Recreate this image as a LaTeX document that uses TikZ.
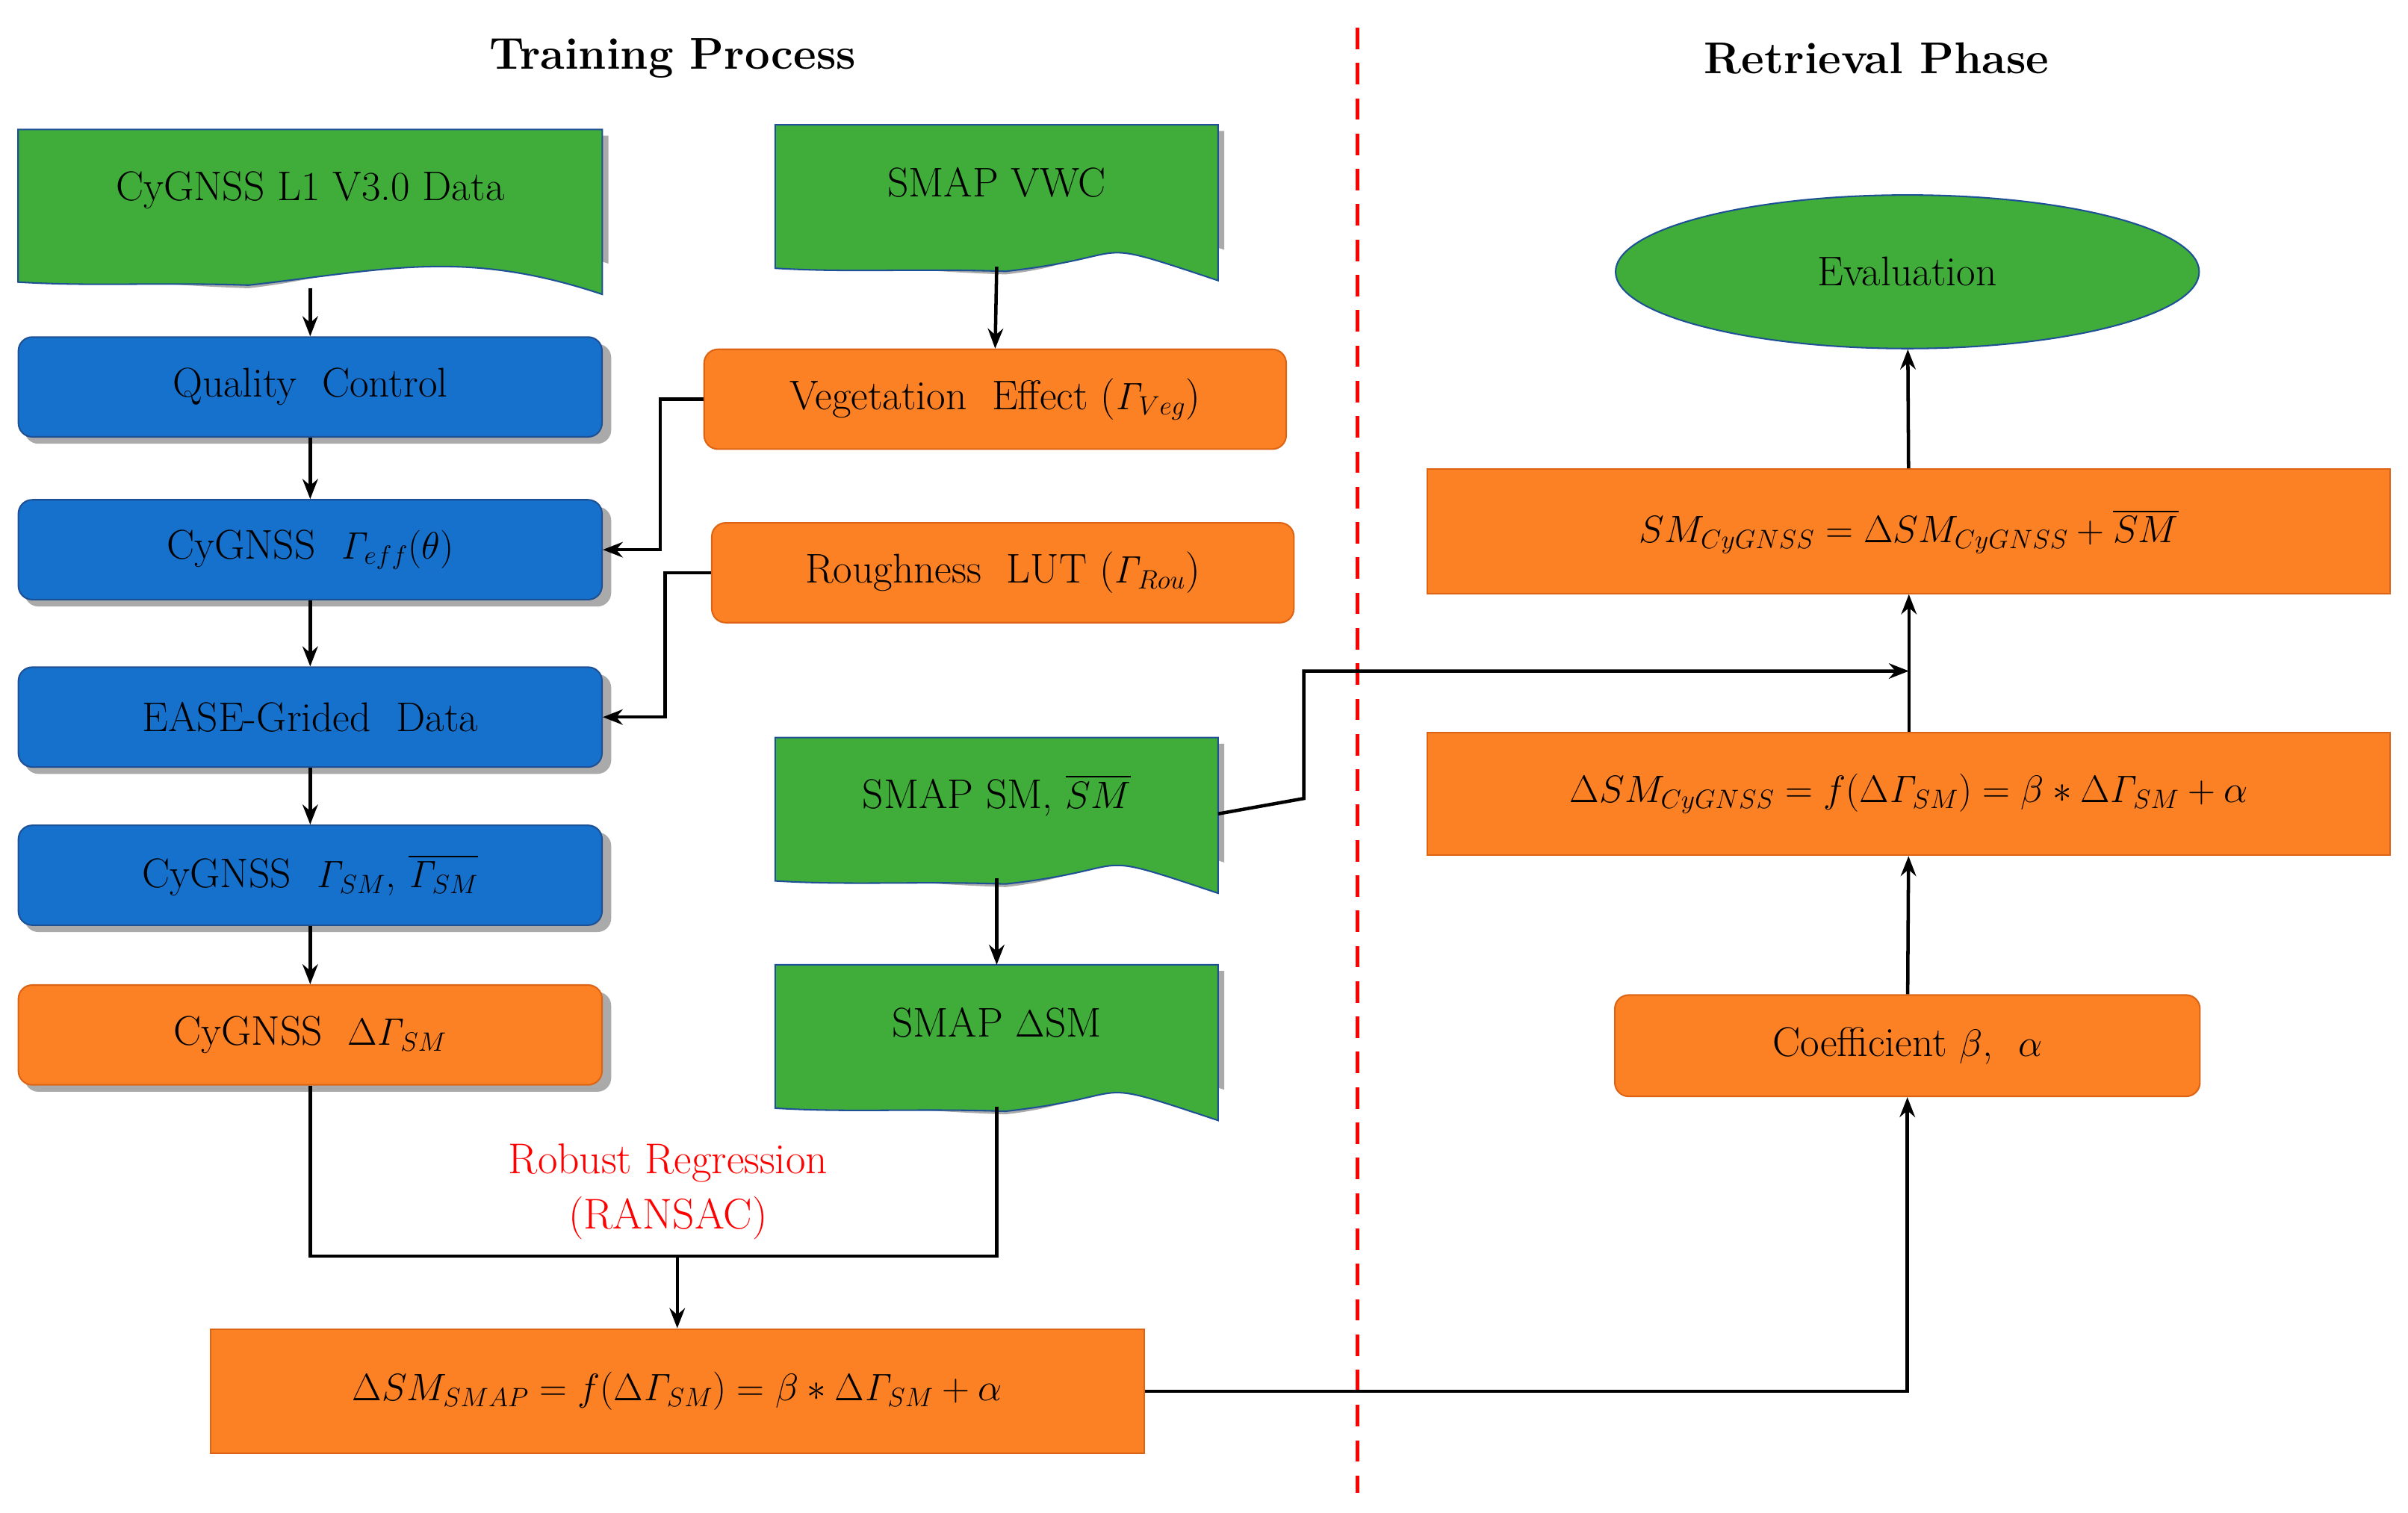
\documentclass[tikz,border=0pt]{standalone}
\usepackage{amsmath}
\usetikzlibrary{shapes.geometric,arrows.meta}
\definecolor{gr}{RGB}{64,172,58}
\definecolor{bl}{RGB}{22,113,204}
\definecolor{blb}{RGB}{30,80,150}
\definecolor{org}{RGB}{252,128,36}
\definecolor{orb}{RGB}{220,100,20}
\definecolor{shd}{RGB}{170,170,170}
\newcommand{\G}{\mathit{\Gamma}}
\begin{document}
\begin{tikzpicture}[x=1pt,y=-1pt,
  every node/.style={font=\fontsize{27}{32}\selectfont, inner sep=0pt},
  box/.style={minimum width=380pt, minimum height=65pt},
  bluebox/.style={box, rounded corners=9pt, fill=bl, draw=blb, line width=1pt, drop shadow},
  orbox/.style={box, rounded corners=9pt, fill=org, draw=orb, line width=1pt},
  orrect/.style={fill=org, draw=orb, line width=1pt, minimum height=81pt},
  doc/.style={minimum width=288pt, minimum height=89pt},
  arr/.style={-{Stealth[length=13pt,width=10pt]}, line width=2.2pt},
  ln/.style={line width=2.2pt}]
\tikzset{drop shadow/.style={}}
\useasboundingbox (0,0) rectangle (1568,985);
\newcommand{\docdraw}[1]{%
  \path[fill=shd] ([shift={(4,4)}]#1.north west) -- ([shift={(4,4)}]#1.north east) -- ([shift={(4,-8)}]#1.south east)
     .. controls +(-90,-30) and +(90,-10) .. ([shift={(150,8)}]#1.south west)
     .. controls +(-60,-2) and +(50,3) .. ([shift={(4,-2)}]#1.south west) -- cycle;
  \path[fill=gr, draw=blb, line width=1pt] (#1.north west) -- (#1.north east) -- ([yshift=-12]#1.south east)
     .. controls +(-90,-30) and +(90,-10) .. ([shift={(150,6)}]#1.south west)
     .. controls +(-60,-2) and +(50,3) .. ([yshift=-4]#1.south west) -- cycle;}
% titles
\node[font=\fontsize{29}{34}\selectfont\bfseries] (t1) at (438,38) {Training Process};
\node[font=\fontsize{29}{34}\selectfont\bfseries] (t2) at (1222,38) {Retrieval Phase};
\coordinate (d1) at (884,18); \coordinate (d2) at (884,972);
\draw[red, line width=2.5pt, dash pattern=on 14pt off 9pt] (d1) -- (d2);
% documents
\node[doc, minimum width=380pt, minimum height=95pt] (l1) at (202,132) {};
\docdraw{l1}\node at (202,124) {CyGNSS L1 V3.0 Data};
\node[doc] (vwc) at (649,126) {};
\docdraw{vwc}\node at (649,119) {SMAP VWC};
\node[doc] (ssm) at (649,525) {};
\docdraw{ssm}\node at (649,518) {SMAP SM, $\overline{SM}$};
\node[doc] (dsm) at (649,673) {};
\docdraw{dsm}\node at (649,666) {SMAP $\Delta$SM};
% blue
\foreach \n/\y in {qc/252, eff/358, ease/467, gsm/570}{
  \fill[shd, rounded corners=9pt] (16,\y-28) rectangle (398,\y+37);}
\node[bluebox] (qc) at (202,252) {Quality\ \ Control};
\node[bluebox] (eff) at (202,358) {CyGNSS\ \ $\G_{eff}(\theta)$};
\node[bluebox] (ease) at (202,467) {EASE-Grided\ \ Data};
\node[bluebox] (gsm) at (202,570) {CyGNSS\ \ $\G_{SM}$, $\overline{\G_{SM}}$};
% orange
\fill[shd, rounded corners=9pt] (16,646) rectangle (398,711);
\node[orbox] (dg) at (202,674) {CyGNSS\ \ $\Delta\G_{SM}$};
\node[orbox, minimum width=379pt] (veg) at (648,260) {Vegetation\ \ Effect\ ($\G_{Veg}$)};
\node[orbox, minimum width=379pt] (rou) at (653,373) {Roughness\ \ LUT\ ($\G_{Rou}$)};
\node[orbox, minimum width=381pt, minimum height=66pt] (coef) at (1242,681) {Coefficient $\beta$,\ \ $\alpha$};
\node[orrect, minimum width=608pt] (fs) at (441,906) {$\Delta SM_{SMAP}=f(\Delta\G_{SM})=\beta*\Delta\G_{SM}+\alpha$};
\node[orrect, minimum width=627pt] (smc) at (1243,346) {$SM_{CyGNSS}=\Delta SM_{CyGNSS}+\overline{SM}$};
\node[orrect, minimum width=627pt, minimum height=80pt] (dsc) at (1243,517) {$\Delta SM_{CyGNSS}=f(\Delta\G_{SM})=\beta*\Delta\G_{SM}+\alpha$};
\node[ellipse, fill=gr, draw=blb, line width=1pt, minimum width=380pt, minimum height=100pt] (ev) at (1242,177) {Evaluation};
\node[red, font=\fontsize{28}{32}\selectfont, align=center] (rr) at (435,776) {Robust Regression\\[4pt](RANSAC)};
% arrows
\draw[arr] ([yshift=-8]l1.south) -- (qc.north);
\draw[arr] (qc) -- (eff);
\draw[arr] (eff) -- (ease);
\draw[arr] (ease) -- (gsm);
\draw[arr] (gsm) -- (dg);
\draw[arr] ([yshift=-3]vwc.south) -- (veg.north);
\draw[arr] (veg.west) -- (430,260) |- (eff.east);
\draw[arr] (rou.west) -- (433,373) |- (ease.east);
\draw[arr] ([yshift=-2]ssm.south) -- (dsm.north);
\coordinate (j) at (441,818);
\draw[ln] (dg.south) |- (j) -| ([yshift=-3]dsm.south);
\draw[arr] (j) -- (fs.north);
\draw[arr] (fs.east) -| (coef.south);
\draw[arr] (coef) -- (dsc);
\draw[arr] (dsc) -- (smc);
\coordinate (m) at (1243,437);
\draw[arr] ([yshift=-5]ssm.east) -- (849,520) |- (m);
\draw[arr] (smc) -- (ev);
\end{tikzpicture}
\end{document}
